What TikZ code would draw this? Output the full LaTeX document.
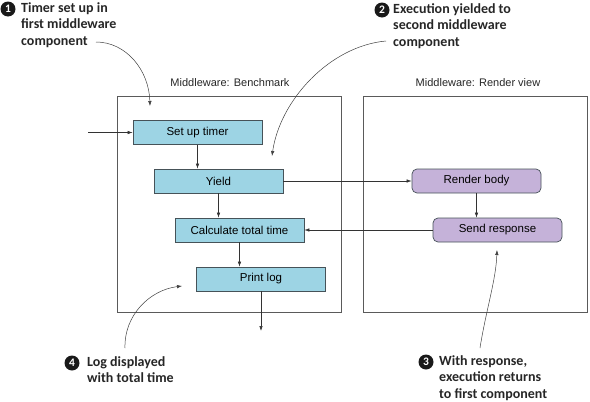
\documentclass[tikz,border=0pt]{standalone}
\usepackage{fontspec}
\setmainfont{Liberation Sans}
\newfontfamily\notefont{Carlito}
\usepackage{xcolor}
\definecolor{azulclaro}{HTML}{9DD4E4}
\definecolor{lilas}{HTML}{C5B2D9}
\definecolor{borda}{RGB}{70,82,88}
\definecolor{moldura}{RGB}{90,90,90}
\usetikzlibrary{arrows.meta, positioning}

\begin{document}
\begin{tikzpicture}[x=1pt, y=-1pt,
    mwframe/.style={rectangle, draw=moldura, line width=0.9pt,
                    minimum width=224pt, minimum height=216pt, inner sep=0pt},
    ftitle/.style={font=\fontsize{11}{12}\selectfont, text=black!85},
    bbox/.style={rectangle, draw=borda, line width=0.7pt, fill=azulclaro,
                 minimum width=129pt, minimum height=24pt,
                 font=\fontsize{11.5}{12}\selectfont, inner sep=0pt},
    pbox/.style={bbox, rounded corners=5pt, fill=lilas},
    arr/.style={-{Latex[length=5pt,width=3.5pt]}, black!80, line width=0.6pt},
    note/.style={font=\notefont\bfseries\fontsize{14}{16.5}\selectfont,
                 align=left, anchor=north west, inner sep=0pt, text=black!85},
    num/.style={circle, fill=black!90, text=white, minimum size=15pt,
                inner sep=0pt, font=\notefont\bfseries\fontsize{11.5}{11.5}\selectfont},
    curva/.style={-{Latex[length=5pt,width=3.5pt]}, black!75, line width=0.5pt}
  ]
  \useasboundingbox (0,0) rectangle (590,402);

  % middleware frames
  \node[mwframe] (bench) at (229.5,204) {};
  \node[mwframe] (rview) at (475,204) {};
  \node[ftitle] at (230,83) {Middleware: Benchmark};
  \node[ftitle] at (478,83) {Middleware: Render view};

  % steps
  \node[bbox] (timer) at (197.5,132.5) {Set up timer};
  \node[bbox] (yield) at (218.5,181)   {Yield};
  \node[bbox] (calc)  at (239.5,230)   {Calculate total time};
  \node[bbox] (plog)  at (261,279)     {Print log};
  \node[pbox] (rbody) at (476.5,181)   {Render body};
  \node[pbox] (sresp) at (497.5,230)   {Send response};

  \coordinate (in)  at (88,132.5);
  \coordinate (out) at (261,331);

  \draw[arr] (in) -- (timer);
  \foreach \a/\b in {timer/yield, yield/calc, calc/plog, rbody/sresp}
    \draw[arr] (\a.south) -- (\a.south |- \b.north);
  \draw[arr] (plog) -- (out);
  \draw[arr] (yield) -- (rbody);
  \draw[arr] (sresp) -- (calc);

  % callouts
  \node[num] (n1) at (8,9)     {1};
  \node[note] (t1) at (21,2)   {Timer set up in\\first middleware\\component};
  \node[num] (n2) at (382,10)  {2};
  \node[note] (t2) at (393,3)  {Execution yielded to\\second middleware\\component};
  \node[num] (n3) at (426,362) {3};
  \node[note] (t3) at (439,355) {With response,\\execution returns\\to first component};
  \node[num] (n4) at (72,363)  {4};
  \node[note] (t4) at (87,356) {Log displayed\\with total time};

  \draw[curva] (96,42) .. controls (126,42) and (149,70) .. (150,106);
  \draw[curva] (386,41) .. controls (330,46) and (280,100) .. (272,156);
  \draw[curva] (480,348) .. controls (486,310) and (496,280) .. (497,250);
  \draw[curva] (125,348) .. controls (124,315) and (150,290) .. (182,286);

\end{tikzpicture}
\end{document}
